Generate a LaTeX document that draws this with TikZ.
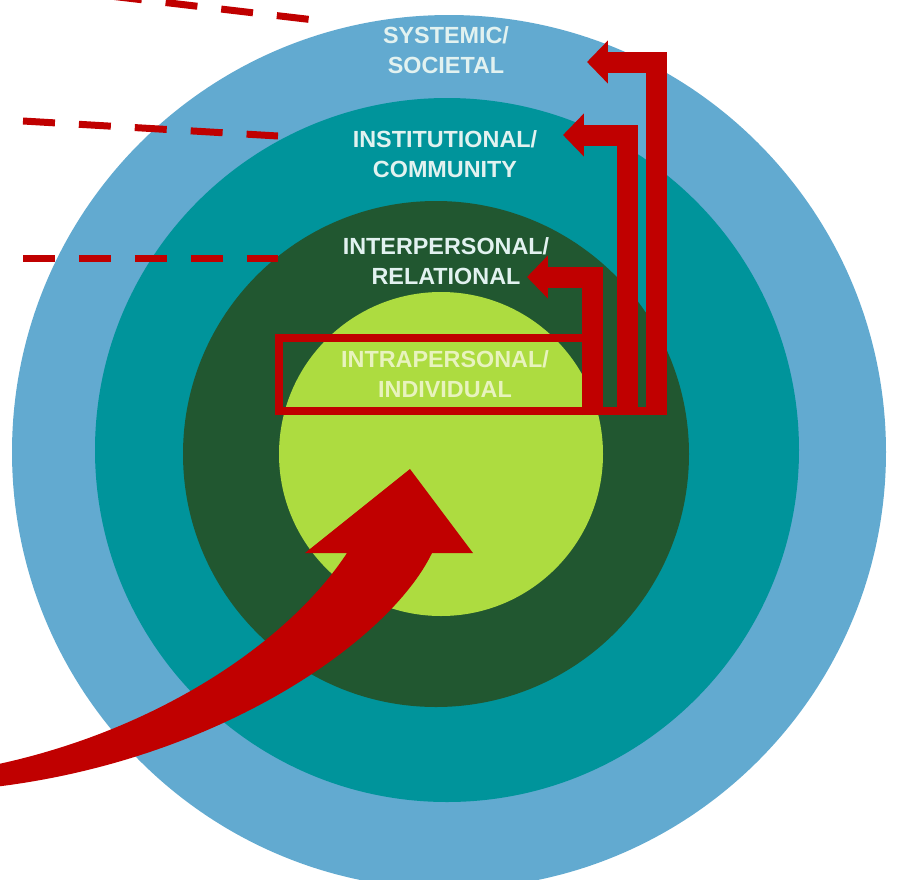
\documentclass[tikz,border=0pt]{standalone}
\usepackage{fontspec}
\setmainfont{Liberation Sans}
\usetikzlibrary{arrows.meta}
\definecolor{ringblue}{RGB}{98, 170, 208}
\definecolor{ringteal}{RGB}{0, 148, 155}
\definecolor{ringdark}{RGB}{33, 87, 48}
\definecolor{ringlime}{RGB}{173, 220, 64}
\definecolor{arrowred}{RGB}{192, 0, 0}
\definecolor{labelwhite}{RGB}{226, 242, 240}
\definecolor{labelpale}{RGB}{232, 243, 190}

\begin{document}
\begin{tikzpicture}[
        x=0.02cm, y=-0.02cm,
        level label/.style={
            inner sep=0pt,
            align=center,
            text=labelwhite,
            font=\fontsize{13.3}{17}\selectfont\bfseries
        },
        dashline/.style={
            draw=arrowred,
            line width=0.14cm,
            dash pattern=on 0.64cm off 0.48cm
        },
        elbow/.style={
            draw=arrowred,
            line width=0.42cm,
            line join=miter,
            -{Triangle[length=0.42cm,width=0.84cm]}
        }
    ]
    \useasboundingbox (0,0) rectangle (897,880);

    % rings, outside in
    \fill[ringblue] (449,452) circle (437);
    \fill[ringteal] (447,450) circle (352);
    \fill[ringdark] (436,454) circle (253);
    \fill[ringlime] (441,454) circle (162);

    % labels
    \node[level label] (systemic) at (446,50) {SYSTEMIC/\\SOCIETAL};
    \node[level label] (institutional) at (445,154) {INSTITUTIONAL/\\COMMUNITY};
    \node[level label] (interpersonal) at (446,261) {INTERPERSONAL/\\RELATIONAL};
    \node[level label, text=labelpale] (intrapersonal) at (445,374) {INTRAPERSONAL/\\INDIVIDUAL};

    % dashed pointers on the left
    \draw[dashline] (110,-4) -- (310,19.5);
    \draw[dashline] (23,121) -- (278,136);
    \draw[dashline] (23,258) -- (278,258);

    % box round the individual level and the three steps out of it
    \draw[arrowred, line width=0.16cm] (279,337.5) rectangle (592,411);
    \draw[arrowred, line width=0.16cm] (279,411) -- (667,411);
    \coordinate (reltip) at (527,277);
    \coordinate (insttip) at (563,135);
    \coordinate (systip) at (587,62);
    \draw[elbow] (592.5,415) |- (reltip);
    \draw[elbow] (627,415) |- (insttip);
    \draw[elbow] (656,415) |- (systip);

    % big curved arrow into the centre
    \fill[arrowred] (-6,765) .. controls (160,730) and (290,640) .. (347,553)
        -- (305,553) -- (410,469) -- (473,553) -- (432,553)
        .. controls (390,640) and (220,760) .. (-6,787) -- cycle;
\end{tikzpicture}
\end{document}
